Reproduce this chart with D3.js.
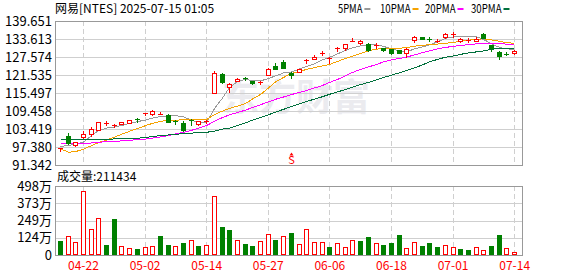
<!DOCTYPE html>
<html>
<head>
<meta charset="utf-8">
<script src="https://cdn.jsdelivr.net/npm/d3@7"></script>
<style>
body{margin:0;background:#fff}
svg text{font-family:"Noto Sans CJK SC","DejaVu Sans",sans-serif;font-size:12px}
</style>
</head>
<body>
<svg id="chart" width="578" height="276"></svg>
<script>
var dates = ["04-16","04-17","04-21","04-22","04-23","04-24","04-25","04-28","04-29","04-30",
	"05-01","05-02","05-05","05-06","05-07","05-08","05-09","05-12","05-13","05-14",
	"05-15","05-16","05-19","05-20","05-21","05-22","05-23","05-27","05-28","05-29",
	"05-30","06-02","06-03","06-04","06-05","06-06","06-09","06-10","06-11","06-12",
	"06-13","06-16","06-17","06-18","06-20","06-23","06-24","06-25","06-26","06-27",
	"06-30","07-01","07-02","07-03","07-07","07-08","07-09","07-10","07-11","07-14"]

var open = [96.66,101.10,98.07,100.86,101.87,103.22,105.3,104.66,105.13,105.57,
	106.7,108.5,108.5,108.5,108.03,106.1,105.34,106.4,105.1,105.8,
	115.56,121.95,117.45,119.6,120.4,119.46,118.9,121.49,124.4,126.0,
	122.16,122.63,126.2,127.0,128.7,127.2,130.2,130.47,132.9,132.3,
	131.81,131.5,130.57,130.13,129.8,128.78,133.26,134.16,133.7,132.9,
	134.4,135.0,132.82,133.1,132.92,135.18,131.47,129.23,128.7,129.02]
var high = [97.16,102.21,99.01,102.65,103.99,105.9,106.2,105.24,105.91,106.58,
	107.15,108.94,109.84,109.27,108.36,106.6,106.0,106.82,106.24,106.58,
	122.96,122.16,118.69,120.4,120.81,119.6,119.5,123.9,125.4,126.53,
	122.49,123.5,127.0,128.2,129.56,127.67,131.04,131.98,134.07,133.3,
	132.38,132.38,130.7,130.37,130.0,130.47,134.5,134.3,134.3,133.6,
	135.6,135.95,133.83,133.8,134.4,135.5,131.6,129.56,129.2,129.8]
var low = [96.15,98.4,97.83,100.43,100.96,102.98,104.7,104.0,105.07,105.47,
	105.91,108.16,108.27,108.43,105.6,105.0,102.88,104.9,104.9,105.4,
	115.5,118.93,115.77,119.5,119.8,118.6,118.4,121.38,123.4,123.74,
	120.47,122.4,125.66,126.94,128.1,125.66,129.56,129.9,132.82,132.0,
	129.7,130.7,129.7,128.68,128.8,127.67,132.72,133.5,132.92,132.7,
	133.83,134.27,132.5,132.6,132.82,133.83,129.56,126.77,128.2,128.68]
var close = [96.89,98.6,98.9,101.87,103.32,105.6,105.5,104.8,105.81,106.48,
	106.4,108.7,109.37,108.6,105.8,105.9,103.22,106.2,105.95,106.2,
	122.29,119.26,118.59,120.27,120.1,118.79,119.3,123.64,123.5,123.84,
	121.49,123.4,126.43,127.67,129.0,127.4,130.5,131.81,133.0,132.9,
	129.9,131.7,129.9,129.02,128.9,130.37,134.4,133.6,133.5,133.1,
	135.18,135.3,133.49,133.3,133.5,133.93,130.57,127.88,128.4,129.69]
var prevClose = 97.5

// volume in 万 shares
var volume = [101,135,92,460,185,265,72,260,63,48,
	43,55,63,137,72,63,87,106,65,70,
	423,202,180,106,79,65,99,152,110,135,
	161,79,185,94,94,58,84,55,108,101,
	130,84,72,89,144,48,94,65,87,58,
	70,55,43,36,55,36,65,144,48,21.1434]

var ma5 = [97.50,97.94,98.27,99.01,101.20,102.88,103.72,104.13,104.56,105.30,
	105.91,106.41,107.09,107.59,107.76,107.93,107.49,106.41,105.67,105.47,
	110.28,113.81,117.35,119.37,120.04,119.70,119.53,120.37,121.22,122.23,
	122.56,123.57,124.41,125.25,126.60,127.44,128.62,129.79,130.64,131.31,
	131.75,131.64,131.14,130.30,129.63,129.29,130.30,130.97,131.64,132.65,
	133.83,134.34,134.57,134.50,134.34,133.49,131.98,130.80,130.30,130.13]
var ma10 = [96.73,95.65,95.82,96.66,97.84,98.84,99.69,100.70,101.64,102.65,
	103.55,104.56,105.30,105.98,106.31,106.41,106.48,106.48,106.48,106.58,
	108.26,109.44,110.28,111.12,111.96,113.48,114.99,117.18,119.20,120.71,
	122.06,122.73,123.40,124.01,124.58,125.08,126.09,127.10,127.88,128.78,
	129.69,130.23,130.37,130.37,130.53,130.70,131.21,131.48,131.71,131.91,
	132.15,132.49,132.82,133.23,133.49,133.66,133.33,132.82,132.42,132.15]
var ma20 = [98.41,98.41,98.41,98.51,98.74,98.95,99.18,99.28,99.42,99.62,
	99.85,100.02,100.36,100.76,101.20,101.77,102.31,102.98,103.66,104.56,
	106.04,107.25,108.16,108.97,109.74,110.65,111.56,112.50,113.38,114.15,
	114.99,115.67,116.34,117.18,118.02,119.03,120.04,121.22,122.39,123.40,
	124.24,125.08,125.93,126.60,127.10,127.54,128.28,129.02,129.63,130.30,
	130.80,131.14,131.48,131.71,131.98,132.15,132.15,132.05,131.91,131.81]
var ma30 = [99.75,99.75,99.79,99.85,99.85,99.85,99.92,100.09,100.19,100.19,
	100.29,100.63,100.86,101.20,101.43,101.64,101.87,102.04,102.21,102.31,
	102.71,103.39,103.66,104.56,105.47,106.38,107.29,108.20,109.10,110.01,
	110.95,111.86,112.64,113.44,114.25,115.06,115.87,116.67,117.48,118.29,
	119.06,119.87,120.68,121.49,122.29,123.07,123.91,124.92,125.93,126.77,
	127.51,127.94,128.45,128.95,129.29,129.63,130.2,130.35,130.5,130.6]

var priceTicks = [139.651,133.613,127.574,121.535,115.497,109.458,103.419,97.380,91.342]
var volTicks = [498,373,249,124,0]
var dateTicks = ["04-22","05-02","05-14","05-27","06-06","06-18","07-01","07-14"]
var maNames = ["5PMA","10PMA","20PMA","30PMA"]
var maColors = ["#999999","#f5a200","#ff00ff","#00703c"]
var title = "网易[NTES] 2025-07-15 01:05"
var volTitle = "成交量:211434"
var markIndex = 30

var left = 56, right = 522
var svg = d3.select("#chart")

var x = d3.scaleBand().domain(dates).range([left, left + dates.length * 7.7])
var y = d3.scaleLinear().domain([91.342, 139.651]).range([165, 21])
var yv = d3.scaleLinear().domain([0, 498]).range([255, 186])
function cx(d){ return Math.round(x(d) + x.bandwidth() / 2) }
function py(v){ return Math.round(y(v)) }

var bars = dates.map(function(d, i){
	return {date: d, o: open[i], h: high[i], l: low[i], c: close[i], v: volume[i],
		up: close[i] > (i ? close[i-1] : prevClose)}
})

// watermark
svg.append("text")
	.attr("x", 222).attr("y", 111)
	.style("font-size", "37px").style("font-weight", "bold")
	.attr("fill", "#ebebef")
	.text("东方财富")

// grids
function panel(scale, ticks, top, bottom){
	var g = svg.append("g")
	g.selectAll("line.h").data(ticks).enter().append("line")
		.attr("x1", left).attr("x2", right)
		.attr("y1", function(t){ return Math.round(scale(t)) + 0.5 })
		.attr("y2", function(t){ return Math.round(scale(t)) + 0.5 })
		.attr("stroke", "#cfcfcf")
	g.selectAll("line.v").data(dateTicks).enter().append("line")
		.attr("x1", function(d){ return cx(d) + 0.5 })
		.attr("x2", function(d){ return cx(d) + 0.5 })
		.attr("y1", top).attr("y2", bottom)
		.attr("stroke", "#cfcfcf")
		.attr("stroke-dasharray", "5,3")
	g.append("rect")
		.attr("x", left - 0.5).attr("y", top + 0.5)
		.attr("width", right - left + 1).attr("height", bottom - top)
		.attr("fill", "none").attr("stroke", "#999")
}
panel(y, priceTicks, 21, 165)
panel(yv, volTicks, 186, 255)

// axes
var ya = svg.append("g").attr("transform", "translate(" + left + ",0)")
	.call(d3.axisLeft(y).tickValues(priceTicks).tickSize(0).tickPadding(4)
		.tickFormat(function(d){ return d.toFixed(3) }))
var va = svg.append("g").attr("transform", "translate(" + left + ",0)")
	.call(d3.axisLeft(yv).tickValues(volTicks).tickSize(0).tickPadding(4)
		.tickFormat(function(d){ return d ? d + "万" : "0" }))
var xa = svg.append("g").attr("transform", "translate(0,256)")
	.call(d3.axisBottom(x).tickValues(dateTicks).tickSize(0).tickPadding(5))
svg.selectAll(".domain").remove()
ya.selectAll("text").style("font-size", "13px").attr("fill", "#000")
va.selectAll("text").style("font-size", "13px").attr("fill", "#000")
xa.selectAll("text").style("font-size", "12px").attr("fill", "#f00")
	.attr("x", 0.5)
svg.selectAll(".tick text").style("font-family", null)

// moving averages
var line = d3.line().x(function(d, i){ return cx(dates[i]) + 0.5 }).y(function(d){ return y(d) })
;[ma5, ma10, ma20, ma30].forEach(function(ma, k){
	svg.append("path").datum(ma)
		.attr("d", line).attr("fill", "none")
		.attr("stroke", maColors[k]).attr("stroke-width", 1)
		.attr("shape-rendering", "crispEdges")
})

// candles
var cg = svg.append("g").attr("shape-rendering", "crispEdges")
bars.forEach(function(b){
	var c = cx(b.date)
	var rise = b.c >= b.o
	var col = rise ? "#ff0000" : "#008000"
	var t = py(Math.max(b.o, b.c)), btm = py(Math.min(b.o, b.c))
	cg.append("line")
		.attr("x1", c + 0.5).attr("x2", c + 0.5)
		.attr("y1", py(b.h)).attr("y2", py(b.l) + 1)
		.attr("stroke", col)
	if (btm - t < 2) {
		cg.append("rect").attr("x", c - 2).attr("y", t).attr("width", 5)
			.attr("height", Math.max(1, btm - t)).attr("fill", col)
	} else if (rise) {
		cg.append("rect").attr("x", c - 1.5).attr("y", t + 0.5).attr("width", 4)
			.attr("height", btm - t).attr("fill", "#fff").attr("stroke", col)
	} else {
		cg.append("rect").attr("x", c - 2).attr("y", t).attr("width", 5)
			.attr("height", btm - t + 1).attr("fill", col)
	}
})

// volume bars
var vg = svg.append("g").attr("shape-rendering", "crispEdges")
bars.forEach(function(b){
	var c = cx(b.date)
	var t = Math.round(yv(b.v)), base = Math.round(yv(0))
	if (b.up) {
		vg.append("rect").attr("x", c - 1.5).attr("y", t + 0.5).attr("width", 4)
			.attr("height", Math.max(1, base - t - 1)).attr("fill", "#fff").attr("stroke", "#ff0000")
	} else {
		vg.append("rect").attr("x", c - 2).attr("y", t).attr("width", 5)
			.attr("height", base - t).attr("fill", "#008000")
	}
})

// S marker
var mx = cx(dates[markIndex]) + 0.5
svg.append("path")
	.attr("d", "M" + (mx - 2) + ",155.5L" + mx + ",152.5L" + (mx + 2) + ",155.5Z")
	.attr("fill", "#f00")
svg.append("text").attr("x", mx).attr("y", 164)
	.attr("text-anchor", "middle").attr("fill", "#f00")
	.style("font-size", "11px").text("S")

// titles
svg.append("text").attr("x", 55).attr("y", 13).attr("fill", "#000").text(title)
svg.append("text").attr("x", 57).attr("y", 181).attr("fill", "#000").text(volTitle)

// legend: fixed slots like the original, text squeezed to the narrow font's width
var legendX = [338, 380, 425, 471]
maNames.forEach(function(n, k){
	var w = n.length * 6.1
	svg.append("text").attr("x", legendX[k]).attr("y", 13).attr("fill", "#000")
		.attr("textLength", w).attr("lengthAdjust", "spacingAndGlyphs").text(n)
	svg.append("rect").attr("x", legendX[k] + w + 2).attr("y", 8).attr("width", 6).attr("height", 2)
		.attr("fill", maColors[k])
})
</script>
</body>
</html>
